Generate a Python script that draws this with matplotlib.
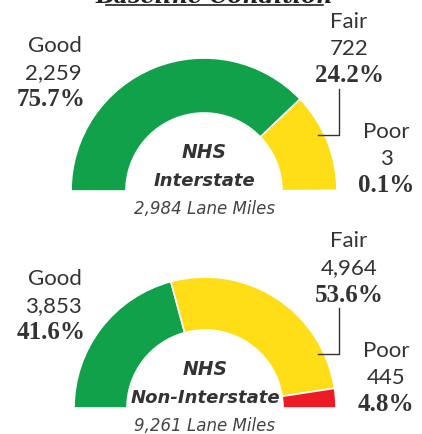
import matplotlib.pyplot as plt
from matplotlib.patches import Wedge

# data
conditions = ["Good", "Fair", "Poor"]
interstate_miles = [2259, 722, 3]
interstate_pct = ["75.7%", "24.2%", "0.1%"]
non_interstate_miles = [3853, 4964, 445]
non_interstate_pct = ["41.6%", "53.6%", "4.8%"]
gauge_titles = ["Interstate", "Non-Interstate"]
lane_miles = [2984, 9261]
colors = ["#10A14A", "#FFDD17", "#ED1C24"]

W, H = 422, 435
TXT = "#333333"


def Y(py):
    # pixel row -> data y
    return H - py


def draw_gauge(ax, cx, cy, R, r, miles, pcts, title, total, label_rows):
    start = 180.0
    s = sum(miles)
    for val, col in zip(miles, colors):
        end = start - val / s * 180.0
        ax.add_patch(Wedge((cx, Y(cy)), R, end, start, width=R - r,
                           facecolor=col, edgecolor="white", linewidth=1.2))
        start = end

    # labels: Good left, Fair top right, Poor right
    spacing = 27
    for i, ((x, y0), ha) in enumerate(zip(label_rows, ["right", "center", "center"])):
        ax.text(x, Y(y0), conditions[i], ha=ha, va="center", fontsize=16,
                family="Lato", color=TXT)
        ax.text(x, Y(y0 + spacing), f"{miles[i]:,}", ha=ha, va="center",
                fontsize=16, family="Lato", color=TXT)
        px = x + 4 if ha == "right" else x
        ax.text(px, Y(y0 + 2 * spacing), pcts[i], ha=ha, va="center", fontsize=18,
                family="Liberation Serif", weight="bold", color=TXT)

    # leader line for Fair
    fy = label_rows[1][1]
    ax.plot([339, 339, 318], [Y(fy + 68), Y(fy + 114), Y(fy + 114)],
            color=TXT, linewidth=1.0)

    ax.text(cx, Y(cy - 39), "NHS", ha="center", va="center", fontsize=13.5,
            family="DejaVu Sans", weight="bold", style="oblique", color=TXT)
    ax.text(cx, Y(cy - 11), title, ha="center", va="center", fontsize=13,
            family="DejaVu Sans", weight="bold", style="oblique", color=TXT)
    ax.text(cx, Y(cy + 17), f"{total:,} Lane Miles", ha="center", va="center",
            fontsize=12, family="DejaVu Sans", style="oblique", color="#444444")


fig = plt.figure(figsize=(W / 100, H / 100), dpi=100)
ax = fig.add_axes([0, 0, 1, 1])
ax.set_xlim(0, W)
ax.set_ylim(0, H)
ax.axis("off")

# clipped header
ax.text(214, Y(3), "Baseline Condition", ha="center", va="baseline", fontsize=16,
        family="DejaVu Serif", weight="bold", style="italic", color="#222222")
ax.plot([106, 323], [Y(6), Y(6)], color="#222222", linewidth=1.2)

draw_gauge(ax, 204, 192, 133, 78, interstate_miles, interstate_pct, gauge_titles[0],
           lane_miles[0], [(82, 46), (349, 22), (386, 132)])
draw_gauge(ax, 205, 409, 131, 78, non_interstate_miles, non_interstate_pct, gauge_titles[1],
           lane_miles[1], [(82, 279), (349, 241), (386, 351)])

fig.savefig("out.png", dpi=100)
